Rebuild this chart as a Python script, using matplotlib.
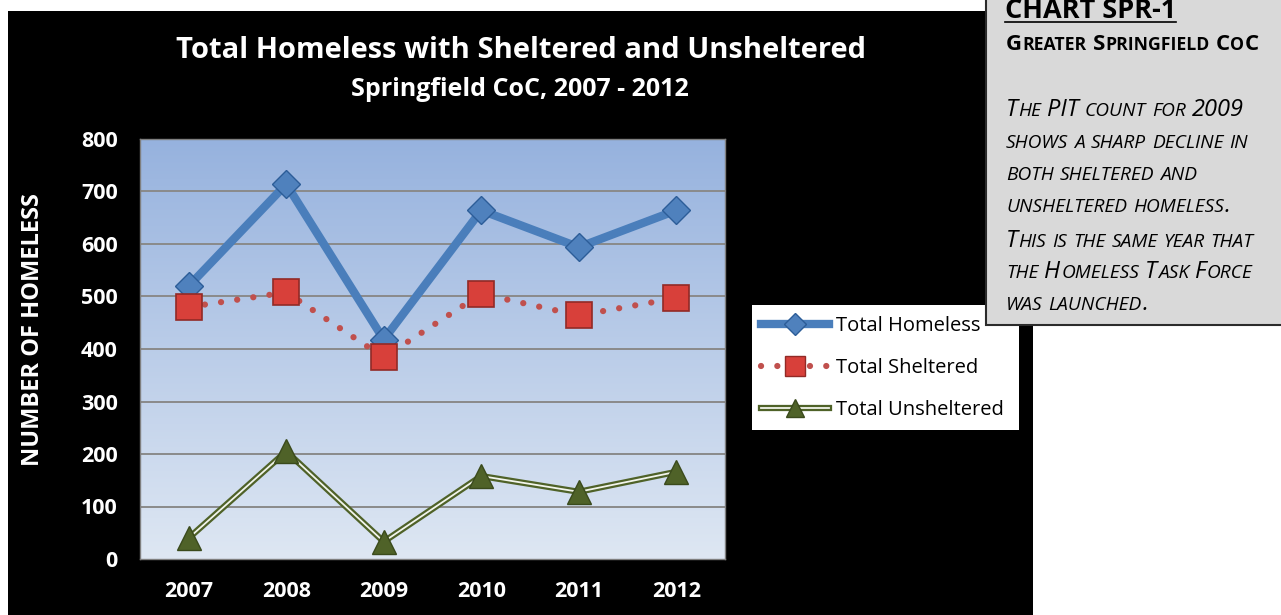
import numpy as np
import matplotlib
matplotlib.use("Agg")
import matplotlib.pyplot as plt
from matplotlib.patches import Rectangle
from matplotlib.lines import Line2D
from matplotlib.legend_handler import HandlerTuple
from matplotlib.transforms import IdentityTransform

# data
years = ["2007", "2008", "2009", "2010", "2011", "2012"]
total_homeless = [520, 714, 418, 664, 594, 664]
total_sheltered = [480, 508, 384, 505, 464, 497]
total_unsheltered = [40, 205, 33, 158, 128, 166]
y_ticks = [0, 100, 200, 300, 400, 500, 600, 700, 800]

FONT = "Open Sans"
W, H = 1281, 615

fig = plt.figure(figsize=(W / 100, H / 100), dpi=100)
fig.patch.set_facecolor("white")

# black chart backdrop
fig.patches.append(Rectangle((8 / W, 0), (1033 - 8) / W, (H - 11) / H,
                             transform=fig.transFigure, facecolor="black",
                             edgecolor="none", zorder=0))

ax = fig.add_axes([140 / W, (H - 559) / H, (725 - 140) / W, (559 - 139) / H])
ax.set_zorder(2)

# gradient plot area
top = np.array([150, 178, 222]) / 255
bot = np.array([222, 231, 243]) / 255
grad = np.linspace(0, 1, 256)[:, None, None]
img = top * (1 - grad) + bot * grad
ax.imshow(img, extent=[0, 1, 0, 1], transform=ax.transAxes, aspect="auto", zorder=0)

x = np.arange(len(years))
for yv in y_ticks[1:]:
    ax.axhline(yv, color="#8a8a8a", lw=1.4, zorder=1)

DOTS = (0, (0.01, 2.6))

# total homeless
ax.plot(x, total_homeless, color="#4a7ebb", lw=6, solid_capstyle="round", zorder=3)
ax.plot(x, total_homeless, ls="none", marker="D", ms=14, mfc="#4f81bd",
        mec="#2c5d98", mew=1, zorder=6)

# total sheltered
ax.plot(x, total_sheltered, color="#c0504d", lw=4.5, ls=DOTS,
        dash_capstyle="round", zorder=3)
ax.plot(x, total_sheltered, ls="none", marker="s", ms=19, mfc="#d8403a",
        mec="#922a26", mew=1.2, zorder=6)

# total unsheltered (double line)
ax.plot(x, total_unsheltered, color="#4f6228", lw=4.5, zorder=3)
ax.plot(x, total_unsheltered, color="#f2f5ec", lw=1.3, zorder=4)
ax.plot(x, total_unsheltered, ls="none", marker="^", ms=17, mfc="#4f6228",
        mec="#3a4a1c", mew=1, zorder=6)

ax.set_xlim(-0.5, 5.5)
ax.set_ylim(0, 800)
ax.set_yticks(y_ticks)
ax.set_xticks(x)
ax.set_xticklabels(years)
ax.tick_params(length=0, colors="white", labelsize=15.5)
ax.tick_params(axis="x", pad=16)
ax.tick_params(axis="y", pad=16)
for lab in ax.get_xticklabels() + ax.get_yticklabels():
    lab.set_fontweight("bold")
    lab.set_fontfamily(FONT)
for sp in ax.spines.values():
    sp.set_color("#7f7f7f")
    sp.set_linewidth(1)

fig.text(33 / W, 1 - 330 / H, "NUMBER OF HOMELESS", rotation=90, color="white",
         fontsize=17, fontweight="bold", family=FONT, ha="center", va="center")

fig.text(521 / W, 1 - 50 / H, "Total Homeless with Sheltered and Unsheltered",
         color="white", fontsize=21, fontweight="bold", family=FONT,
         ha="center", va="center")
fig.text(520 / W, 1 - 89 / H, "Springfield CoC, 2007 - 2012", color="white",
         fontsize=18, fontweight="bold", family=FONT, ha="center", va="center")

# legend
fig.patches.append(Rectangle((752 / W, 1 - 430 / H), (1019 - 752) / W, 125 / H,
                             transform=fig.transFigure, facecolor="white",
                             edgecolor="none", zorder=3))
h1 = Line2D([], [], color="#4a7ebb", lw=6, marker="D", ms=11, mfc="#4f81bd",
            mec="#2c5d98")
h2 = Line2D([], [], color="#c0504d", lw=4.5, ls=DOTS,
            dash_capstyle="round", marker="s", ms=14, mfc="#d8403a", mec="#922a26")
h3a = Line2D([], [], color="#4f6228", lw=4.5)
h3b = Line2D([], [], color="#f2f5ec", lw=1.3)
h3c = Line2D([], [], ls="none", marker="^", ms=13, mfc="#4f6228", mec="#3a4a1c")
leg = fig.legend([h1, h2, (h3a, h3b, h3c)],
                 ["Total Homeless", "Total Sheltered", "Total Unsheltered"],
                 handler_map={tuple: HandlerTuple(ndivide=1)},
                 loc="upper left", bbox_to_anchor=(761 / W, 1 - 316 / H),
                 frameon=False, prop={"family": FONT, "size": 14.5},
                 handlelength=3.4, handletextpad=0.3, labelspacing=1.1,
                 borderaxespad=0, borderpad=0)
leg.set_zorder(4)

# side note box
fig.patches.append(Rectangle((986 / W, 1 - 325 / H), (W - 986 + 5) / W, 330 / H,
                             transform=fig.transFigure, facecolor="#d9d9d9",
                             edgecolor="#2b2b2b", lw=1.5, zorder=5))

renderer = fig.canvas.get_renderer()


def small_caps(x0, y_top, line, big, small, weight="normal", style="normal"):
    # lowercase letters are drawn as smaller capitals
    px = x0
    yb = H - y_top
    runs = []
    for ch in line:
        kind = "sp" if ch == " " else ("lo" if ch.islower() else "up")
        if runs and runs[-1][0] == kind:
            runs[-1][1] += ch
        else:
            runs.append([kind, ch])
    for kind, s in runs:
        if kind == "sp":
            px += len(s) * small * 100 / 72 * 0.27
            continue
        size = small if kind == "lo" else big
        t = fig.text(px, yb, s.upper(), transform=IdentityTransform(),
                     fontsize=size, family=FONT, fontweight=weight,
                     fontstyle=style, color="black", va="baseline", zorder=6)
        px += t.get_window_extent(renderer=renderer).width + 0.8
    return px


t = fig.text(1005, H - 18, "CHART SPR-1", transform=IdentityTransform(),
             fontsize=19.5, family=FONT, fontweight="bold", va="baseline", zorder=6)
wid = t.get_window_extent(renderer=renderer).width
fig.lines.append(Line2D([1005 / W, (1005 + wid) / W], [1 - 22 / H, 1 - 22 / H],
                        transform=fig.transFigure, color="black", lw=1.2, zorder=6))
small_caps(1006, 50, "Greater Springfield CoC", 16, 12.7, weight="bold")

note = ["The PIT count for 2009", "shows a sharp decline in", "both sheltered and",
        "unsheltered homeless.", "This is the same year that",
        "the Homeless Task Force", "was launched."]
baselines = [116, 148, 180, 212, 247, 278, 310]
for line, yb in zip(note, baselines):
    small_caps(1006, yb, line, 17, 13.8, style="italic")

fig.savefig("out.png", dpi=100, facecolor="white")
